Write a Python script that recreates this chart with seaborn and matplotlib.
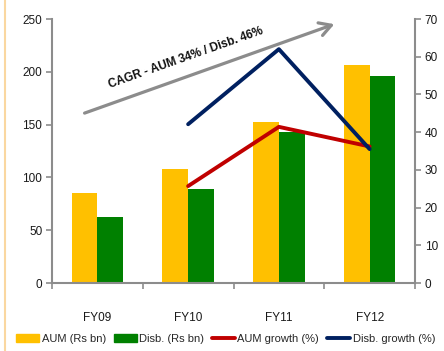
import matplotlib
matplotlib.use("Agg")
import matplotlib.pyplot as plt
import seaborn as sns
import numpy as np
import pandas as pd
from matplotlib.patches import Patch
from matplotlib.lines import Line2D

sns.set_theme(style="white")
plt.rcParams['font.family'] = ['Liberation Sans', 'DejaVu Sans']

years = ["FY09", "FY10", "FY11", "FY12"]
aum = [85, 108, 152.5, 206.5]
disb = [62.5, 89, 143, 196]
aum_growth = [np.nan, 25.7, 41.4, 36.2]
disb_growth = [np.nan, 42.1, 62.0, 35.5]
bar_labels = ["AUM (Rs bn)", "Disb. (Rs bn)"]
line_labels = ["AUM growth (%)", "Disb. growth (%)"]
left_ticks = [0, 50, 100, 150, 200, 250]
right_ticks = [0, 10, 20, 30, 40, 50, 60, 70]
cagr_text = "CAGR - AUM 34% / Disb. 46%"

bar_colors = ["#FFC000", "#008000"]
line_colors = ["#C00000", "#002060"]
spine_c = "#8C8C8C"

bars = pd.DataFrame({
    "year": years * 2,
    "value": aum + disb,
    "series": [bar_labels[0]] * 4 + [bar_labels[1]] * 4,
})
lines = pd.DataFrame({
    "pos": list(range(len(years))) * 2,
    "value": aum_growth + disb_growth,
    "series": [line_labels[0]] * 4 + [line_labels[1]] * 4,
})

fig = plt.figure(figsize=(4.44, 3.51), dpi=100)
ax = fig.add_axes([52/444, 1-283/351, (415-52)/444, (283-19)/351])
sns.barplot(data=bars, x="year", y="value", hue="series", palette=bar_colors,
            width=0.57, ax=ax, legend=False, saturation=1, linewidth=0,
            edgecolor="none")
ax.set_xlim(-0.5, 3.5)
ax.set_ylim(0, 250)
ax.set_yticks(left_ticks)
ax.set_xlabel("")
ax.set_ylabel("")

ax2 = ax.twinx()
sns.lineplot(data=lines.dropna(), x="pos", y="value", hue="series",
             palette=line_colors, lw=2.8, ax=ax2, legend=False)
ax2.set_ylim(0, 70)
ax2.set_yticks(right_ticks)
ax2.set_xlim(-0.5, 3.5)
ax2.set_ylabel("")
ax2.set_xlabel("")

for a in (ax, ax2):
    a.spines["top"].set_visible(False)
    for s in ["left", "right", "bottom"]:
        a.spines[s].set_color(spine_c)
        a.spines[s].set_linewidth(1.5)
ax.spines["right"].set_visible(False)
ax2.spines["left"].set_visible(False)
ax2.spines["bottom"].set_visible(False)

ax.tick_params(axis="y", left=True, length=4, width=1.2, color=spine_c,
               labelsize=8.5, pad=3, labelcolor="#1a1a1a")
ax2.tick_params(axis="y", right=True, length=4, width=1.2, color=spine_c,
                labelsize=8.5, pad=3, labelcolor="#1a1a1a")
ax.set_xticks(range(len(years)))
ax.set_xticklabels(years)
ax.set_xticks(np.arange(-0.5, len(years), 1.0), minor=True)
ax.tick_params(axis="x", which="major", length=0, pad=21, labelsize=8.5, labelcolor="#1a1a1a")
ax.tick_params(axis="x", which="minor", bottom=True, length=4, width=1.2, color=spine_c)

# CAGR arrow
ax.annotate("", xy=(2.64, 246), xytext=(-0.17, 160),
            arrowprops=dict(arrowstyle="->,head_length=0.7,head_width=0.4",
                            color="#8C8C8C", lw=2.3), annotation_clip=False)
ax.text(0.98, 213, cagr_text, rotation=19.5, ha="center", va="center",
        fontsize=8.5, fontweight="bold", color="#111111")

handles = [Patch(color=bar_colors[0], label=bar_labels[0]),
           Patch(color=bar_colors[1], label=bar_labels[1]),
           Line2D([], [], color=line_colors[0], lw=2.8, label=line_labels[0]),
           Line2D([], [], color=line_colors[1], lw=2.8, label=line_labels[1])]
fig.legend(handles=handles, loc="center left", bbox_to_anchor=(16/444, 1-339/351),
           ncol=4, frameon=False, fontsize=8, handlelength=2.1, handletextpad=0.2,
           columnspacing=0.7, borderaxespad=0, borderpad=0)

fig.add_artist(Line2D([5/444, 5/444], [0, 1], color="#FAD7A0", lw=1.5))

fig.savefig("out.png", dpi=100)
